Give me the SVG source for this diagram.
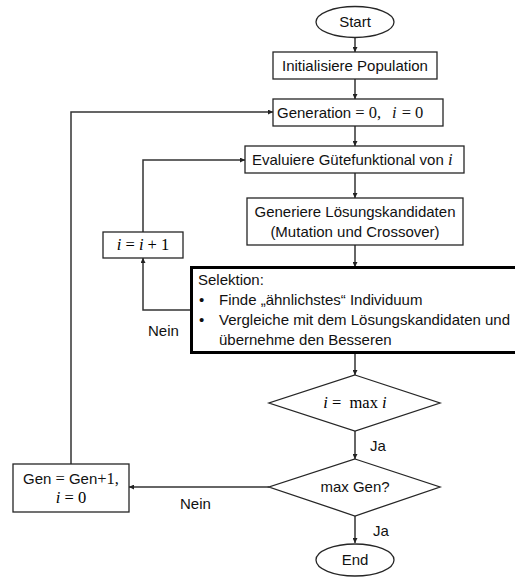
<svg xmlns="http://www.w3.org/2000/svg" width="515" height="577" viewBox="0 0 515 577">
<defs>
<style>
.box{fill:#fff;stroke:#262626;stroke-width:1.3}
.thick{fill:#fff;stroke:#000;stroke-width:3}
.t{font-family:"Liberation Sans",Arial,sans-serif;font-size:15px;fill:#111}
.m{font-family:"Liberation Serif","Times New Roman",serif;font-size:16.5px}
.mi{font-family:"Liberation Serif","Times New Roman",serif;font-size:16.5px;font-style:italic}
.c{text-anchor:middle}
.ln{fill:none;stroke:#333;stroke-width:1.5}
</style>
<marker id="ah" viewBox="0 0 10 10" refX="10" refY="5" markerWidth="5" markerHeight="5" orient="auto" markerUnits="userSpaceOnUse">
<path d="M0,0 L10,5 L0,10 z" fill="#222"/>
</marker>
</defs>
<rect width="515" height="577" fill="#fff"/>
<g id="connectors">
<line class="ln" x1="355" y1="37" x2="355" y2="52" marker-end="url(#ah)"/>
<line class="ln" x1="355" y1="79" x2="355" y2="99" marker-end="url(#ah)"/>
<line class="ln" x1="355" y1="126" x2="355" y2="146" marker-end="url(#ah)"/>
<line class="ln" x1="355" y1="173" x2="355" y2="198" marker-end="url(#ah)"/>
<line class="ln" x1="355" y1="245" x2="355" y2="267" marker-end="url(#ah)"/>
<line class="ln" x1="355" y1="353" x2="355" y2="375" marker-end="url(#ah)"/>
<line class="ln" x1="355" y1="431" x2="355" y2="459" marker-end="url(#ah)"/>
<line class="ln" x1="355" y1="516" x2="355" y2="543" marker-end="url(#ah)"/>
<polyline class="ln" points="191,310 143,310 143,258" marker-end="url(#ah)"/>
<polyline class="ln" points="143,232 143,160 245,160" marker-end="url(#ah)"/>
<line class="ln" x1="269" y1="487" x2="129" y2="487" marker-end="url(#ah)"/>
<polyline class="ln" points="71,464 71,112 273,112" marker-end="url(#ah)"/>
<text class="t" x="148" y="336">Nein</text>
<text class="t" x="180" y="509">Nein</text>
<text class="t" x="370" y="451">Ja</text>
<text class="t" x="373" y="536">Ja</text>
</g>
<g id="start">
<ellipse class="box" cx="355" cy="22" rx="39" ry="15.5"/>
<text class="t c" x="355" y="27">Start</text>
</g>
<g id="init">
<rect class="box" x="273" y="52" width="164" height="27"/>
<text class="t c" x="355" y="71">Initialisiere Population</text>
</g>
<g id="generation">
<rect class="box" x="273" y="99" width="170" height="27"/>
<text class="t" x="277" y="118">Generation<tspan class="m" dx="4">= 0,</tspan><tspan class="mi" dx="11">i</tspan><tspan class="m" dx="5">= 0</tspan></text>
</g>
<g id="evaluiere">
<rect class="box" x="245" y="146" width="219" height="27"/>
<text class="t" x="252" y="165">Evaluiere Gütefunktional von <tspan class="mi">i</tspan></text>
</g>
<g id="generiere">
<rect class="box" x="247" y="198" width="216" height="47"/>
<text class="t c" x="355" y="217">Generiere Lösungskandidaten</text>
<text class="t c" x="355" y="237">(Mutation und Crossover)</text>
</g>
<g id="inc">
<rect class="box" x="103" y="232" width="80" height="26"/>
<text class="m c" x="143" y="250"><tspan class="mi">i</tspan> = <tspan class="mi">i</tspan> + 1</text>
</g>
<g id="selektion">
<rect class="thick" x="191.5" y="267.5" width="326" height="85"/>
<text class="t" x="198" y="285">Selektion:</text>
<text class="t" x="199" y="305">•</text>
<text class="t" x="219" y="305">Finde „ähnlichstes“ Individuum</text>
<text class="t" x="199" y="325">•</text>
<text class="t" x="219" y="325">Vergleiche mit dem Lösungskandidaten und</text>
<text class="t" x="219" y="345">übernehme den Besseren</text>
</g>
<g id="maxi">
<polygon class="box" points="355,375 440,403 355,431 269,403"/>
<text class="m c" x="355" y="408"><tspan class="mi">i</tspan> = <tspan dx="4">max</tspan> <tspan class="mi">i</tspan></text>
</g>
<g id="maxgen">
<polygon class="box" points="355,459 440,487 355,516 269,487"/>
<text class="t c" x="355" y="492">max Gen?</text>
</g>
<g id="gen">
<rect class="box" x="13" y="464" width="116" height="48"/>
<text class="t c" x="71" y="484">Gen<tspan class="m"> = </tspan>Gen<tspan class="m">+1,</tspan></text>
<text class="m c" x="71" y="503"><tspan class="mi">i</tspan> = 0</text>
</g>
<g id="end">
<ellipse class="box" cx="355" cy="560" rx="39" ry="16"/>
<text class="t c" x="355" y="565">End</text>
</g>
</svg>
